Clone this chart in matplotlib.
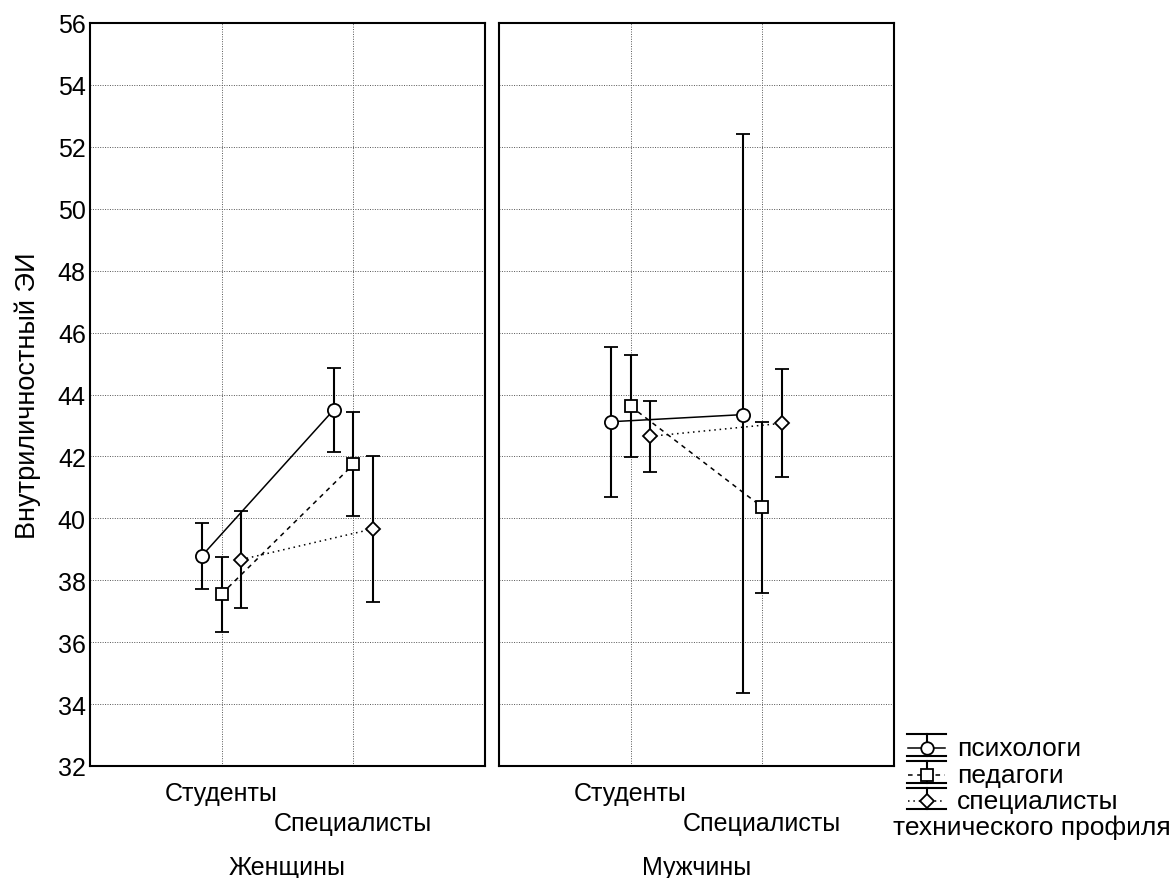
import matplotlib
matplotlib.use('Agg')
import matplotlib.pyplot as plt
import numpy as np

plt.rcParams['font.family'] = ['Liberation Sans', 'DejaVu Sans']

groups = ['Женщины', 'Мужчины']
categories = ['Студенты', 'Специалисты']
series = ['психологи', 'педагоги', 'специалисты\nтехнического профиля']

# means and interval bounds per group: [Студенты, Специалисты]
means = {
    'Женщины': [[38.79, 43.50], [37.56, 41.74], [38.67, 39.66]],
    'Мужчины': [[43.12, 43.35], [43.62, 40.36], [42.65, 43.07]],
}
lower = {
    'Женщины': [[37.72, 42.15], [36.34, 40.09], [37.11, 37.31]],
    'Мужчины': [[40.70, 34.36], [41.97, 37.59], [41.51, 41.35]],
}
upper = {
    'Женщины': [[39.85, 44.86], [38.74, 43.44], [40.25, 42.00]],
    'Мужчины': [[45.52, 52.41], [45.26, 43.12], [43.80, 44.82]],
}

offsets = [-0.15, 0.0, 0.15]
markers = ['o', 's', 'D']
msizes = [9.5, 8.5, 7.5]
lstyles = ['-', (0, (3, 3)), (0, (1, 2.5))]
FS = 18

fig = plt.figure(figsize=(11.76, 8.79), dpi=100)
ax_l = fig.add_axes([90/1176, 1-767/879, 395/1176, 743/879])
ax_r = fig.add_axes([499/1176, 1-767/879, 395/1176, 743/879])

x = np.arange(len(categories))
for ax, g in zip([ax_l, ax_r], groups):
    for i in range(len(series)):
        m = np.array(means[g][i])
        lo = np.array(lower[g][i])
        hi = np.array(upper[g][i])
        ax.errorbar(x + offsets[i], m, yerr=[m - lo, hi - m], color='black',
                    linestyle=lstyles[i], linewidth=1.1, elinewidth=1.5,
                    capsize=5, capthick=1.5, marker=markers[i], ms=msizes[i],
                    mfc='white', mec='black', mew=1.3, zorder=3)
    ax.set_xlim(-1, 2)
    ax.set_ylim(32, 56)
    ax.set_yticks(np.arange(32, 57, 2))
    ax.set_xticks(x)
    ax.set_xticklabels(['Студенты', '\nСпециалисты'], fontsize=FS)
    for lbl in ax.get_xticklabels():
        lbl.set_linespacing(1.32)
    ax.tick_params(axis='x', length=0, pad=11, labelsize=FS)
    ax.tick_params(axis='y', length=0, pad=3, labelsize=FS)
    ax.grid(True, color='#555555', linestyle=(0, (1, 1.5)), linewidth=0.7)
    ax.set_axisbelow(True)
    for s in ax.spines.values():
        s.set_linewidth(1.5)
    ax.set_xlabel(g, fontsize=FS, labelpad=14)

ax_r.tick_params(axis='y', labelleft=False)
ax_l.set_ylabel('Внутриличностный ЭИ', fontsize=19.5, labelpad=12)

# legend drawn by hand in pixel coordinates
lg = fig.add_axes([0, 0, 1, 1])
lg.set_xlim(0, 1176)
lg.set_ylim(879, 0)
lg.axis('off')
rows = [(735, 757), (762, 784), (789, 810)]
for i, (t, b) in enumerate(rows):
    c = (t + b) / 2 + 3
    lg.plot([907, 946], [t, t], color='black', lw=1.5)
    lg.plot([907, 946], [b, b], color='black', lw=1.5)
    lg.plot([927, 927], [t, b], color='black', lw=1.5)
    lg.plot([908, 945], [c, c], color='black', lw=1.1, linestyle=lstyles[i])
    lg.plot([927], [c], marker=markers[i], ms=msizes[i] - 0.5, mfc='white',
            mec='black', mew=1.3, color='black')
    lg.text(957, c, series[i].split('\n')[0], fontsize=19, va='center', ha='left')
lg.text(893, 828, series[2].split('\n')[1], fontsize=19, va='center', ha='left')

fig.savefig('out.png', dpi=100)
